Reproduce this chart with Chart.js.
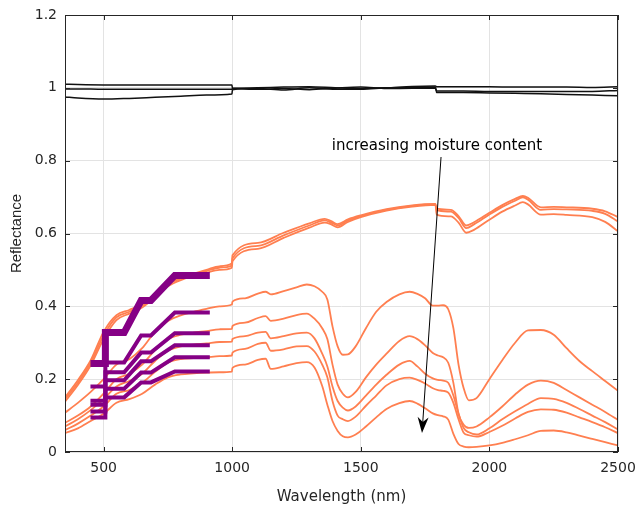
<!DOCTYPE html>
<html>
<head>
<meta charset="utf-8">
<script src="https://cdn.jsdelivr.net/npm/chart.js@4.4.0/dist/chart.umd.min.js"></script>
<style>
  html, body { margin: 0; padding: 0; background: #fff; }
  #wrap { width: 639px; height: 512px; }
</style>
</head>
<body>
<div id="wrap"><canvas id="myChart" width="639" height="512"></canvas></div>
<script>
// dry samples (upper orange group)
const wlDry = [350, 400, 450, 500, 550, 600, 650, 700, 750, 800, 850, 900, 950, 999, 1001, 1100, 1200, 1300, 1360, 1385, 1410, 1450, 1500, 1600, 1700, 1790, 1795, 1850, 1880, 1910, 1940, 2000, 2050, 2100, 2130, 2150, 2200, 2250, 2300, 2400, 2450, 2500];
const dry1 = [0.15, 0.197, 0.252, 0.33, 0.376, 0.39, 0.407, 0.434, 0.463, 0.479, 0.49, 0.5, 0.51, 0.518, 0.54, 0.574, 0.602, 0.628, 0.64, 0.634, 0.626, 0.639, 0.65, 0.667, 0.677, 0.681, 0.668, 0.665, 0.648, 0.622, 0.631, 0.657, 0.678, 0.695, 0.703, 0.698, 0.672, 0.673, 0.672, 0.668, 0.661, 0.645];
const dry2 = [0.145, 0.19, 0.245, 0.32, 0.37, 0.385, 0.402, 0.43, 0.46, 0.476, 0.487, 0.497, 0.506, 0.512, 0.532, 0.566, 0.595, 0.622, 0.636, 0.63, 0.622, 0.636, 0.648, 0.665, 0.676, 0.68, 0.664, 0.66, 0.643, 0.615, 0.625, 0.652, 0.673, 0.69, 0.699, 0.693, 0.665, 0.667, 0.666, 0.662, 0.654, 0.633];
const dry3 = [0.138, 0.184, 0.238, 0.31, 0.362, 0.38, 0.397, 0.425, 0.455, 0.472, 0.483, 0.492, 0.5, 0.506, 0.524, 0.558, 0.588, 0.616, 0.63, 0.625, 0.617, 0.632, 0.645, 0.663, 0.674, 0.679, 0.652, 0.647, 0.63, 0.602, 0.61, 0.638, 0.66, 0.677, 0.686, 0.68, 0.652, 0.653, 0.651, 0.645, 0.632, 0.606];

// wet samples (lower orange group)
const wlWet = [350, 400, 450, 500, 550, 600, 650, 700, 750, 800, 850, 900, 950, 999, 1001, 1050, 1100, 1130, 1150, 1200, 1250, 1290, 1320, 1350, 1370, 1390, 1410, 1430, 1450, 1480, 1520, 1560, 1600, 1650, 1690, 1720, 1750, 1780, 1800, 1820, 1840, 1860, 1880, 1900, 1920, 1950, 2000, 2050, 2100, 2150, 2200, 2250, 2300, 2350, 2400, 2450, 2500];
const wet1 = [0.108, 0.135, 0.165, 0.2, 0.24, 0.255, 0.285, 0.33, 0.36, 0.375, 0.385, 0.393, 0.4, 0.405, 0.413, 0.422, 0.435, 0.44, 0.433, 0.442, 0.452, 0.46, 0.455, 0.44, 0.419, 0.345, 0.29, 0.267, 0.268, 0.29, 0.34, 0.385, 0.412, 0.433, 0.44, 0.434, 0.422, 0.402, 0.402, 0.403, 0.392, 0.34, 0.24, 0.175, 0.142, 0.148, 0.2, 0.252, 0.3, 0.334, 0.335, 0.322, 0.285, 0.25, 0.222, 0.195, 0.168];
const wet2 = [0.08, 0.1, 0.125, 0.16, 0.2, 0.215, 0.24, 0.28, 0.31, 0.322, 0.328, 0.332, 0.337, 0.338, 0.346, 0.355, 0.368, 0.373, 0.36, 0.366, 0.376, 0.38, 0.366, 0.34, 0.31, 0.24, 0.185, 0.16, 0.15, 0.165, 0.205, 0.24, 0.27, 0.305, 0.318, 0.31, 0.293, 0.272, 0.265, 0.26, 0.245, 0.19, 0.105, 0.075, 0.066, 0.07, 0.095, 0.125, 0.158, 0.185, 0.196, 0.19, 0.17, 0.15, 0.13, 0.11, 0.088];
const wet3 = [0.07, 0.09, 0.115, 0.145, 0.18, 0.195, 0.215, 0.25, 0.278, 0.29, 0.295, 0.298, 0.302, 0.303, 0.31, 0.318, 0.328, 0.33, 0.312, 0.318, 0.326, 0.328, 0.312, 0.27, 0.235, 0.18, 0.14, 0.122, 0.114, 0.125, 0.155, 0.185, 0.212, 0.24, 0.25, 0.235, 0.215, 0.202, 0.198, 0.196, 0.19, 0.155, 0.105, 0.066, 0.054, 0.048, 0.065, 0.09, 0.112, 0.132, 0.148, 0.146, 0.135, 0.118, 0.1, 0.082, 0.062];
const wet4 = [0.06, 0.078, 0.1, 0.125, 0.16, 0.17, 0.19, 0.22, 0.245, 0.255, 0.258, 0.26, 0.263, 0.265, 0.273, 0.283, 0.297, 0.3, 0.278, 0.282, 0.29, 0.291, 0.276, 0.24, 0.205, 0.14, 0.1, 0.09, 0.085, 0.097, 0.127, 0.155, 0.183, 0.2, 0.204, 0.198, 0.188, 0.175, 0.17, 0.168, 0.163, 0.135, 0.09, 0.053, 0.046, 0.042, 0.055, 0.072, 0.092, 0.11, 0.117, 0.116, 0.108, 0.095, 0.082, 0.068, 0.052];
const wet5 = [0.052, 0.065, 0.085, 0.105, 0.135, 0.145, 0.16, 0.185, 0.205, 0.213, 0.216, 0.218, 0.219, 0.221, 0.231, 0.24, 0.253, 0.256, 0.228, 0.235, 0.244, 0.247, 0.232, 0.181, 0.13, 0.085, 0.058, 0.043, 0.04, 0.048, 0.07, 0.095, 0.118, 0.134, 0.14, 0.133, 0.12, 0.106, 0.101, 0.098, 0.089, 0.05, 0.022, 0.015, 0.013, 0.014, 0.018, 0.025, 0.035, 0.046, 0.058, 0.059, 0.054, 0.045, 0.036, 0.027, 0.018];

// white reference panels (black lines)
const wlRef = [350, 400, 500, 600, 700, 800, 900, 999, 1001, 1100, 1200, 1300, 1400, 1500, 1600, 1700, 1790, 1795, 1900, 2000, 2100, 2200, 2300, 2400, 2500];
const ref1 = [1.01, 1.009, 1.008, 1.008, 1.008, 1.008, 1.008, 1.008, 0.999, 1.0, 1.002, 1.003, 1.0, 0.998, 1.0, 1.004, 1.005, 1.003, 1.003, 1.003, 1.002, 1.002, 1.002, 1.001, 1.003];
const ref2 = [0.997, 0.997, 0.996, 0.996, 0.996, 0.996, 0.996, 0.996, 0.998, 0.996, 0.998, 0.995, 0.999, 1.002, 0.998, 0.999, 0.999, 0.991, 0.991, 0.99, 0.99, 0.99, 0.99, 0.99, 0.993];
const ref3 = [0.975, 0.972, 0.969, 0.971, 0.974, 0.977, 0.98, 0.983, 0.995, 0.998, 0.994, 1.0, 0.996, 0.996, 1.0, 1.001, 1.002, 0.987, 0.987, 0.986, 0.985, 0.984, 0.982, 0.98, 0.978];

// band-averaged values (purple steps)
const bandWl = [449, 507, 507, 580, 646, 684, 777, 913];
const band1 = [0.243, 0.243, 0.328, 0.328, 0.416, 0.416, 0.485, 0.485];
const band2 = [0.18, 0.18, 0.246, 0.246, 0.32, 0.32, 0.383, 0.383];
const band3 = [0.141, 0.141, 0.219, 0.219, 0.273, 0.273, 0.326, 0.326];
const band4 = [0.13, 0.13, 0.197, 0.197, 0.249, 0.249, 0.293, 0.293];
const band5 = [0.111, 0.111, 0.174, 0.174, 0.218, 0.218, 0.26, 0.26];
const band6 = [0.095, 0.095, 0.15, 0.15, 0.191, 0.191, 0.221, 0.221];

const xTicks = [500, 1000, 1500, 2000, 2500];
const yTicks = [0, 0.2, 0.4, 0.6, 0.8, 1, 1.2];

const noteText = 'increasing moisture content';
const arrowFrom = { x: 1812, y: 0.81 };
const arrowTo = { x: 1738, y: 0.052 };

const ORANGE = '#ff7f50';
const PURPLE = '#850085';
const INK = '#262626';

function pts(xs, ys) {
    return xs.map((x, i) => ({ x: x, y: ys[i] }));
}
function spectrum(xs, ys, color, w) {
    return {
        data: pts(xs, ys), borderColor: color, borderWidth: w,
        pointRadius: 0, tension: 0.35, cubicInterpolationMode: 'monotone', order: 1
    };
}
function band(ys, w) {
    return {
        data: pts(bandWl, ys), borderColor: PURPLE, borderWidth: w,
        pointRadius: 0, tension: 0, order: 0, borderJoinStyle: 'miter'
    };
}

const frame = {
    id: 'frame',
    afterDraw(chart) {
        const ctx = chart.ctx;
        const a = chart.chartArea;
        const xs = chart.scales.x, ys = chart.scales.y;
        ctx.save();
        ctx.strokeStyle = INK;
        ctx.lineWidth = 1;
        ctx.strokeRect(a.left + 0.5, a.top + 0.5, a.right - a.left - 1, a.bottom - a.top - 1);
        ctx.beginPath();
        xTicks.forEach(v => {
            const p = Math.round(xs.getPixelForValue(v)) + 0.5;
            ctx.moveTo(p, a.bottom); ctx.lineTo(p, a.bottom - 5);
            ctx.moveTo(p, a.top); ctx.lineTo(p, a.top + 5);
        });
        yTicks.forEach(v => {
            const p = Math.round(ys.getPixelForValue(v)) + 0.5;
            ctx.moveTo(a.left, p); ctx.lineTo(a.left + 5, p);
            ctx.moveTo(a.right, p); ctx.lineTo(a.right - 5, p);
        });
        ctx.stroke();

        // arrow
        const x0 = xs.getPixelForValue(arrowFrom.x), y0 = ys.getPixelForValue(arrowFrom.y);
        const x1 = xs.getPixelForValue(arrowTo.x), y1 = ys.getPixelForValue(arrowTo.y);
        const ang = Math.atan2(y1 - y0, x1 - x0);
        const L = 16, W = 5.5;
        const bx = x1 - L * Math.cos(ang), by = y1 - L * Math.sin(ang);
        const nx = -Math.sin(ang), ny = Math.cos(ang);
        ctx.strokeStyle = '#000';
        ctx.lineWidth = 1;
        ctx.beginPath();
        ctx.moveTo(x0, y0);
        ctx.lineTo(bx + 6 * Math.cos(ang), by + 6 * Math.sin(ang));
        ctx.stroke();
        ctx.fillStyle = '#000';
        ctx.beginPath();
        ctx.moveTo(x1, y1);
        ctx.lineTo(bx + nx * W, by + ny * W);
        ctx.lineTo(bx + 5 * Math.cos(ang), by + 5 * Math.sin(ang));
        ctx.lineTo(bx - nx * W, by - ny * W);
        ctx.closePath();
        ctx.fill();

        ctx.font = '15px "DejaVu Sans"';
        ctx.textAlign = 'center';
        ctx.textBaseline = 'middle';
        ctx.fillStyle = '#000';
        ctx.fillText(noteText, xs.getPixelForValue(1796), ys.getPixelForValue(0.84));
        ctx.restore();
    }
};

const ctx = document.getElementById('myChart').getContext('2d');
const myChart = new Chart(ctx, {
    type: 'line',
    data: {
        datasets: [
            band(band1, 7), band(band2, 4), band(band3, 4), band(band4, 4), band(band5, 4), band(band6, 4),
            spectrum(wlDry, dry1, ORANGE, 1.8), spectrum(wlDry, dry2, ORANGE, 1.8), spectrum(wlDry, dry3, ORANGE, 1.8),
            spectrum(wlWet, wet1, ORANGE, 1.8), spectrum(wlWet, wet2, ORANGE, 1.8), spectrum(wlWet, wet3, ORANGE, 1.8),
            spectrum(wlWet, wet4, ORANGE, 1.8), spectrum(wlWet, wet5, ORANGE, 1.8),
            spectrum(wlRef, ref1, '#111', 1.5), spectrum(wlRef, ref2, '#111', 1.5), spectrum(wlRef, ref3, '#111', 1.5)
        ]
    },
    options: {
        responsive: false,
        animation: false,
        layout: { padding: { top: 15, right: 21, left: 0, bottom: 0 } },
        plugins: { legend: { display: false }, tooltip: { enabled: false } },
        scales: {
            x: {
                type: 'linear', min: 350, max: 2500,
                afterBuildTicks: s => { s.ticks = xTicks.map(v => ({ value: v })); },
                afterFit: s => { s.height = 60; s.paddingLeft = 0; s.paddingRight = 0; },
                grid: { color: '#e3e3e3', drawTicks: false },
                border: { display: false },
                ticks: { padding: 8, color: INK, font: { family: 'DejaVu Sans', size: 14 },
                         callback: v => String(v) },
                title: { display: true, text: 'Wavelength (nm)', color: INK, padding: { top: 0, bottom: 6 },
                         font: { family: 'DejaVu Sans', size: 15 } }
            },
            y: {
                min: 0, max: 1.2,
                afterBuildTicks: s => { s.ticks = yTicks.map(v => ({ value: v })); },
                afterFit: s => { s.width = 65; s.paddingTop = 0; s.paddingBottom = 0; },
                grid: { color: '#e3e3e3', drawTicks: false },
                border: { display: false },
                ticks: { padding: 8, color: INK, font: { family: 'DejaVu Sans', size: 14 },
                         callback: v => String(+v.toFixed(1)) },
                title: { display: true, text: 'Reflectance', color: INK, padding: { top: 8, bottom: 0 },
                         font: { family: 'Liberation Sans', size: 15 } }
            }
        }
    },
    plugins: [frame]
});
</script>
</body>
</html>
